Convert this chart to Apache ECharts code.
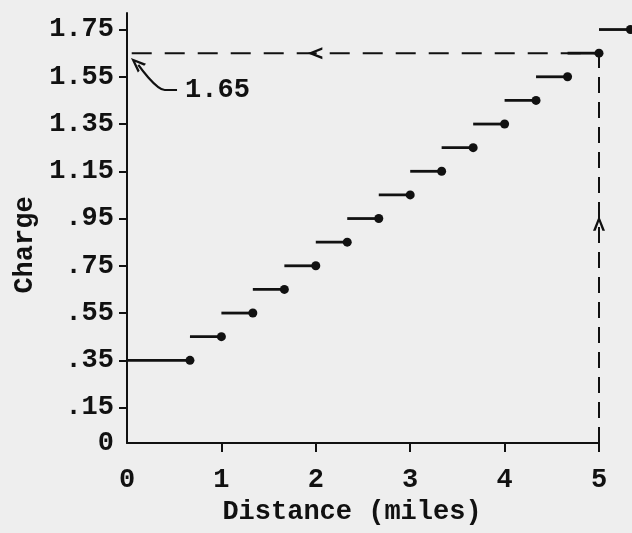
<!DOCTYPE html>
<html><head><meta charset="utf-8">
<script src="https://cdn.jsdelivr.net/npm/echarts@6/dist/echarts.min.js"></script>
<style>html,body{margin:0;padding:0;background:#eeeeee}#c{width:632px;height:533px}</style>
</head><body><div id="c"></div>
<script>
// Step boundaries (miles) and charge on each step
const stepStart = [0, 0.667, 1, 1.333, 1.667, 2, 2.333, 2.667, 3, 3.333, 3.667, 4, 4.333, 4.667, 5];
const stepEnd   = [0.667, 1, 1.333, 1.667, 2, 2.333, 2.667, 3, 3.333, 3.667, 4, 4.333, 4.667, 5, 5.333];
const charges   = [0.35, 0.45, 0.55, 0.65, 0.75, 0.85, 0.95, 1.05, 1.15, 1.25, 1.35, 1.45, 1.55, 1.65, 1.75];
const yTickValues = [0, 0.15, 0.35, 0.55, 0.75, 0.95, 1.15, 1.35, 1.55, 1.75];
const yTickLabels = ['0', '.15', '.35', '.55', '.75', '.95', '1.15', '1.35', '1.55', '1.75'];
const xTickLabels = ['0', '1', '2', '3', '4', '5'];
const readDistance = 5;
const readCharge = 1.65;
const annotationText = '1.65';
const leaderLine = [[0.53, 1.494], [0.40, 1.494], [0.12, 1.600]];
const leaderTip = [0.10, 1.608];
const labelPoint = [0.61, 1.494];
const hArrow = [1.99, 1.65];
const vArrow = [5, 0.93];

const FONT = 'Liberation Mono';
const INK = '#111111';
const chart = echarts.init(document.getElementById('c'), null, {renderer: 'canvas'});

const chevron = 'path://M0,5 L10,0 L10,2.2 L4,5 L10,7.8 L10,10 Z';

chart.setOption({
  backgroundColor: '#eeeeee',
  animation: false,
  grid: {left: 127, right: 33, top: 13, bottom: 90, containLabel: false},
  xAxis: {
    type: 'value', min: 0, max: 5, interval: 1,
    name: 'Distance (miles)', nameLocation: 'middle', nameGap: 56,
    nameTextStyle: {fontFamily: FONT, fontSize: 27, fontWeight: 'bold', color: INK, padding: [0, 22, 0, 0]},
    axisLine: {show: true, lineStyle: {color: INK, width: 2}},
    axisTick: {show: true, length: 9, lineStyle: {color: INK, width: 2},
      customValues: [1, 2, 3, 4, 5]},
    axisLabel: {margin: 24, fontFamily: FONT, fontSize: 27, fontWeight: 'bold', color: INK,
      formatter: v => xTickLabels[Math.round(v)]},
    splitLine: {show: false}
  },
  yAxis: {
    type: 'value', min: 0, max: 1.82,
    name: 'Charge', nameLocation: 'middle', nameGap: 88, nameRotate: 90,
    nameTextStyle: {fontFamily: FONT, fontSize: 27, fontWeight: 'bold', color: INK, padding: [0, 34, 0, 0]},
    axisLine: {show: true, lineStyle: {color: INK, width: 2}},
    axisTick: {show: true, length: 8, lineStyle: {color: INK, width: 2},
      customValues: yTickValues.slice(1)},
    axisLabel: {margin: 13, fontFamily: FONT, fontSize: 27, fontWeight: 'bold', color: INK,
      customValues: yTickValues,
      formatter: v => { const i = yTickValues.findIndex(t => Math.abs(t - v) < 1e-6); return i >= 0 ? yTickLabels[i] : ''; }},
    splitLine: {show: false}
  },
  series: [
    {type: 'custom', silent: true, clip: false,
      encode: {x: [0, 1], y: 2},
      data: charges.map((c, i) => [stepStart[i], stepEnd[i], c]),
      renderItem: (params, api) => {
        const p1 = api.coord([api.value(0), api.value(2)]);
        const p2 = api.coord([api.value(1), api.value(2)]);
        return {type: 'line', shape: {x1: p1[0], y1: p1[1], x2: p2[0], y2: p2[1]},
          style: {stroke: INK, lineWidth: 2.8}};
      }},
    {type: 'scatter', silent: true, clip: false, symbol: 'circle', symbolSize: 9,
      itemStyle: {color: INK, opacity: 1},
      data: charges.map((c, i) => [stepEnd[i], c])},
    {type: 'line', silent: true, clip: false, showSymbol: false,
      lineStyle: {color: INK, width: 2, type: [20, 13]},
      data: [[0.05, readCharge], [readDistance, readCharge]]},
    {type: 'line', silent: true, clip: false, showSymbol: false,
      lineStyle: {color: INK, width: 2, type: [16, 9]},
      data: [[readDistance, 0], [readDistance, readCharge]]},
    {type: 'line', silent: true, clip: false, showSymbol: false, smooth: 0.3,
      lineStyle: {color: INK, width: 2.2},
      data: leaderLine},
    {type: 'scatter', silent: true, clip: false, symbol: chevron, symbolSize: [15, 12], symbolRotate: 0,
      itemStyle: {color: INK, opacity: 1}, data: [hArrow]},
    {type: 'scatter', silent: true, clip: false, symbol: chevron, symbolSize: [15, 12], symbolRotate: -90,
      itemStyle: {color: INK, opacity: 1}, data: [vArrow]},
    {type: 'scatter', silent: true, clip: false, symbol: chevron, symbolSize: [15, 12], symbolRotate: -43,
      itemStyle: {color: INK, opacity: 1}, data: [leaderTip]},
    {type: 'scatter', silent: true, clip: false, symbolSize: 1,
      itemStyle: {opacity: 0},
      label: {show: true, position: 'right', distance: 0, formatter: annotationText,
        fontFamily: FONT, fontSize: 27, fontWeight: 'bold', color: '#111111', opacity: 1,
        textBorderWidth: 0},
      data: [labelPoint]}
  ]
});
</script></body></html>
